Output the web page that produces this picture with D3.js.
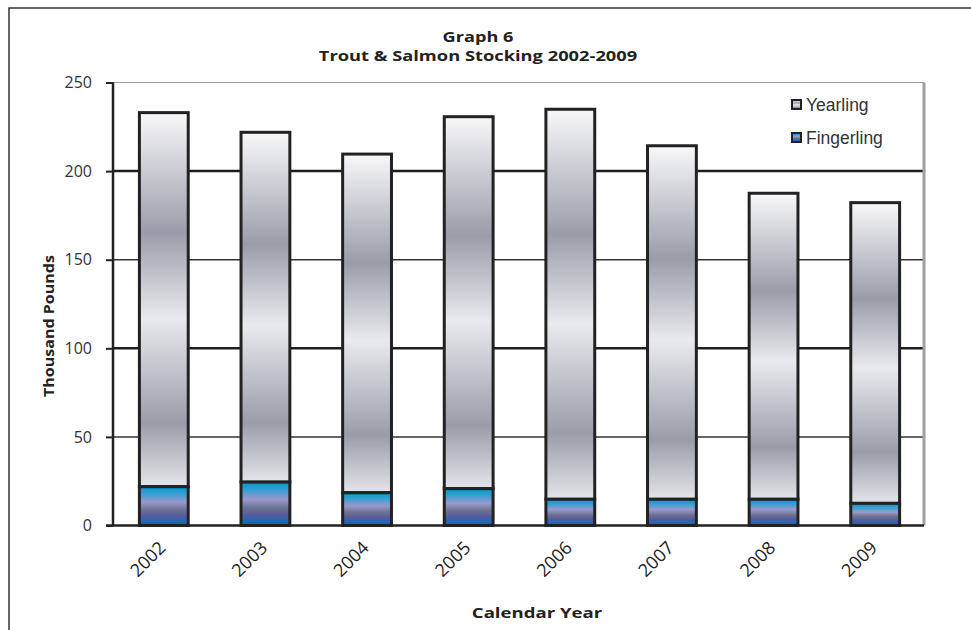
<!DOCTYPE html>
<html><head><meta charset="utf-8">
<script src="https://cdn.jsdelivr.net/npm/d3@7"></script>
<style>body{margin:0;background:#fff}svg{display:block}</style>
</head><body>
<svg id="c" width="971" height="630"></svg>
<script>
const years = ["2002","2003","2004","2005","2006","2007","2008","2009"];
const fingerling = [21.9, 24.5, 18.5, 20.8, 14.8, 14.8, 14.8, 12.5];
const yearling = [211.1, 197.4, 191.1, 209.9, 220.1, 199.5, 172.7, 169.7];
const yTicks = [0, 50, 100, 150, 200, 250];
const seriesNames = ["Yearling", "Fingerling"];

const svg = d3.select("#c");
const defs = svg.append("defs");
function grad(id, stops){
  const g = defs.append("linearGradient").attr("id", id)
    .attr("x1",0).attr("y1",0).attr("x2",0).attr("y2",1);
  stops.forEach(s => g.append("stop").attr("offset", s[0]).attr("stop-color", s[1]));
}
grad("gY", [[0,"#f8f8fa"],[0.32,"#9a9da9"],[0.55,"#e9eaee"],[0.83,"#9a9da9"],[1,"#e4e5e9"]]);
grad("gF", [[0,"#0598cc"],[0.15,"#2a9fd2"],[0.4,"#9b98cc"],[0.6,"#6b7290"],[0.75,"#5a5a9c"],[0.9,"#1b6ab8"],[1,"#1262b2"]]);

const font = "'Open Sans', sans-serif";

// outer frame
svg.append("rect").attr("x",9).attr("y",8).attr("width",1000).attr("height",700)
  .attr("fill","none").attr("stroke","#333").attr("stroke-width",1.5);

const x = d3.scaleBand().domain(years).range([113, 926]).paddingInner(0.49).paddingOuter(0.245);
const y = d3.scaleLinear().domain([0,250]).range([525.5, 82.5]);
const plotL = 113, plotR = 924;

// gridlines
yTicks.forEach(t => {
  if (t === 0) return;
  let sw = 1.5, col = "#333";
  if (t === 250) { sw = 1; col = "#999"; }
  if (t === 200 || t === 100) { sw = 2.5; col = "#1e1e1e"; }
  svg.append("line").attr("x1",plotL).attr("x2",plotR).attr("y1",y(t)).attr("y2",y(t))
    .attr("stroke",col).attr("stroke-width",sw);
});

// right plot border
svg.append("line").attr("x1",plotR).attr("x2",plotR).attr("y1",y(250)).attr("y2",y(0))
  .attr("stroke","#a0a0a4").attr("stroke-width",3);

// bars
const bw = x.bandwidth();
years.forEach((yr, i) => {
  const f = fingerling[i], t = f + yearling[i];
  svg.append("rect").attr("x", x(yr)+1.5).attr("width", bw-3)
    .attr("y", y(t)).attr("height", y(f)-y(t))
    .attr("fill","url(#gY)").attr("stroke","#222").attr("stroke-width",3);
  svg.append("rect").attr("x", x(yr)+1.5).attr("width", bw-3)
    .attr("y", y(f)).attr("height", y(0)-y(f))
    .attr("fill","url(#gF)").attr("stroke","#222").attr("stroke-width",3);
});

// y axis
const yAxis = d3.axisLeft(y).tickValues(yTicks).tickSize(7).tickPadding(14);
const ya = svg.append("g").attr("transform",`translate(${plotL},0)`).call(yAxis);
ya.select(".domain").attr("stroke","#222").attr("stroke-width",2.5).attr("d",`M0,${y(250)}V${y(0)}`);
ya.selectAll(".tick line").attr("stroke","#222").attr("stroke-width",2);
ya.selectAll(".tick text").attr("font-family",font).attr("font-size",16).attr("fill","#333");

// x axis baseline
svg.append("line").attr("x1",106).attr("x2",plotR).attr("y1",y(0)).attr("y2",y(0))
  .attr("stroke","#222").attr("stroke-width",2.5);

// x labels
const xa = svg.append("g");
years.forEach(yr => {
  const cx = x(yr) + bw/2;
  xa.append("text").attr("transform",`translate(${cx+3},${549}) rotate(-45)`)
    .attr("text-anchor","end").attr("font-family",font).attr("font-size",18)
    .attr("fill","#222").text(yr);
});

// titles
function sText(tx, ty, sx, rot, size, txt){
  svg.append("text").attr("transform",`translate(${tx},${ty}) rotate(${rot}) scale(${sx},1)`)
    .attr("text-anchor","middle").attr("font-family",font).attr("font-weight","bold")
    .attr("font-size",size).attr("fill","#222").text(txt);
}
sText(478, 42, 1.21, 0, 15, "Graph 6");
sText(478, 61, 1.22, 0, 15, "Trout & Salmon Stocking 2002-2009");
sText(54, 326, 1.07, -90, 15, "Thousand Pounds");
sText(537, 618, 1.24, 0, 15, "Calendar Year");

// legend
const lg = svg.append("g");
const legFills = ["url(#gY)","url(#gF)"];
seriesNames.forEach((n, i) => {
  const ly = 105 + i*33;
  lg.append("rect").attr("x",792).attr("y",ly-5).attr("width",9).attr("height",9)
    .attr("fill",legFills[i]).attr("stroke","#222").attr("stroke-width",2);
  lg.append("text").attr("x",806).attr("y",ly+6).attr("font-family","'Liberation Sans', Arial, sans-serif")
    .attr("font-size",17.5).attr("fill","#333").text(n);
});
</script>
</body></html>
